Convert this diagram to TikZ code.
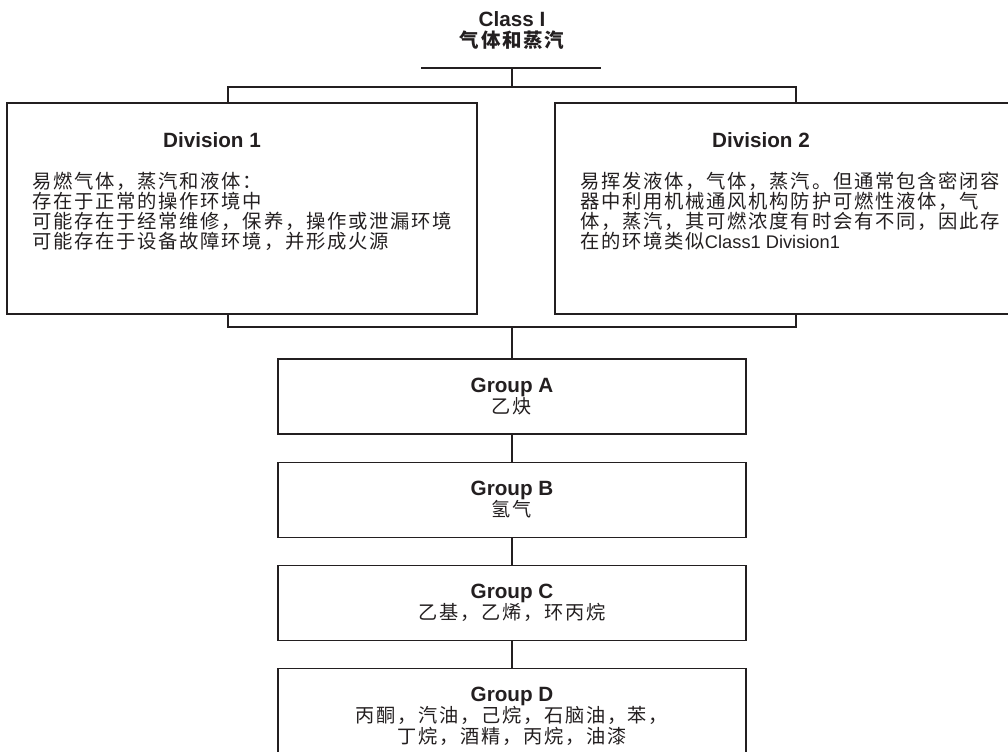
\documentclass[tikz,border=0pt]{standalone}
\usepackage{fontspec}
\setmainfont{Liberation Sans}
\newfontfamily\cjk{Noto Sans CJK SC}[LetterSpace=9]
\usetikzlibrary{positioning}
\definecolor{ink}{RGB}{35,31,32}
% bold latin headings inside the boxes
\newcommand\hd[1]{{\rmfamily\bfseries\fontsize{15.5}{16}\selectfont #1}}

\begin{document}
\begin{tikzpicture}[x=0.75pt,y=-0.75pt,
  frame/.style={draw=ink,line width=0.95pt},
  link/.style={draw=ink,line width=1.5pt},
  divbox/.style={frame,minimum width=352.5pt,minimum height=158.25pt,inner sep=0pt},
  grpbox/.style={frame,minimum width=351pt,minimum height=56.25pt,inner sep=0pt,
    align=center,text=ink,font=\fontsize{14.4}{16}\selectfont\cjk},
  head/.style={text=ink,inner sep=0pt,font=\fontsize{15.5}{16}\bfseries\selectfont},
  body/.style={text=ink,inner sep=0pt,align=left,font=\fontsize{14.5}{14.9}\selectfont\cjk}]
  \useasboundingbox (0,0) rectangle (1008,751);
  \clip (0,0) rectangle (1008,751);

  % class heading and its bar
  \node[head,anchor=north,align=center,font=\fontsize{15.5}{15.75}\bfseries\selectfont]
    (cls) at (512,11) {Class I\\{\cjk\fontsize{14.6}{15.75}\selectfont 气体和蒸汽}};
  \coordinate (barL) at (421,68);
  \coordinate (barR) at (601,68);
  \draw[link] (barL) -- (barR);

  % the two divisions
  \node[divbox] (div1) at (242,208.5) {};
  \node[divbox] (div2) at (790,208.5) {};
  \node[head,anchor=base] (div1title) at (212,147) {Division 1};
  \node[head,anchor=base] (div2title) at (761,147) {Division 2};
  \node[body,anchor=north west] (div1text) at (32,172)
    {易燃气体，蒸汽和液体：\\
     存在于正常的操作环境中\\
     可能存在于经常维修，保养，操作或泄漏环境\\
     可能存在于设备故障环境，并形成火源};
  \node[body,anchor=north west] (div2text) at (580,172)
    {易挥发液体，气体，蒸汽。但通常包含密闭容\\
     器中利用机械通风机构防护可燃性液体，气\\
     体，蒸汽，其可燃浓度有时会有不同，因此存\\
     在的环境类似{\rmfamily\fontsize{13.7}{14.9}\selectfont Class1 Division1}};

  % brackets above and below the divisions
  \coordinate (topL) at (228,87);
  \coordinate (topR) at (796,87);
  \coordinate (botL) at (228,327);
  \coordinate (botR) at (796,327);
  \draw[link] (cls |- barL) -- (cls |- topL);
  \draw[frame] (topL |- div1.north) |- (topR) -- (topR |- div2.north);
  \draw[frame] (botL |- div1.south) |- (botR) -- (botR |- div2.south);

  % gas groups
  \node[grpbox] (grpA) at (512,396.5) {\hd{Group A}\\乙炔};
  \node[grpbox,below=20.25pt of grpA] (grpB) {\hd{Group B}\\氢气};
  \node[grpbox,below=20.25pt of grpB] (grpC) {\hd{Group C}\\乙基，乙烯，环丙烷};
  \node[grpbox,below=20.25pt of grpC,minimum height=71.25pt] (grpD)
    {\hd{Group D}\\丙酮，汽油，己烷，石脑油，苯，\\丁烷，酒精，丙烷，油漆};
  \draw[link] (grpA.north |- botL) -- (grpA.north);
  \foreach \a/\b in {grpA/grpB,grpB/grpC,grpC/grpD}
    \draw[link] (\a) -- (\b);
\end{tikzpicture}
\end{document}
